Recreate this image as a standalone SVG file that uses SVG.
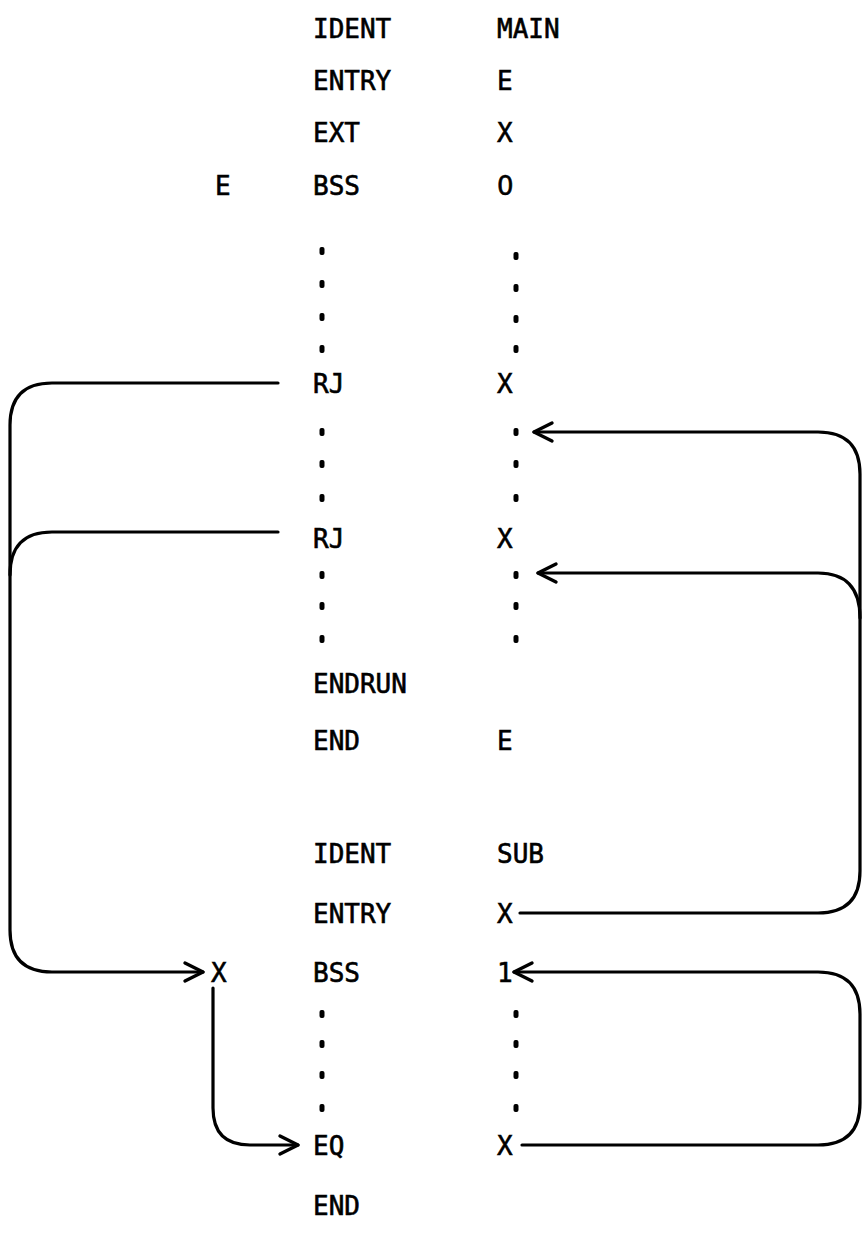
<svg xmlns="http://www.w3.org/2000/svg" width="867" height="1260" viewBox="0 0 867 1260">
<defs>
<style>
text{font-family:"DejaVu Sans Mono","Liberation Mono",monospace;font-size:26px;fill:#000;stroke:#000;stroke-width:0.6}
.z{font-family:"DejaVu Sans","Liberation Sans",sans-serif}
.c{fill:none;stroke:#000;stroke-width:3.2;stroke-linecap:round;stroke-linejoin:round}
.d{fill:#000}
</style>
<marker id="ah" markerWidth="24" markerHeight="24" refX="1" refY="12" orient="auto" markerUnits="userSpaceOnUse" overflow="visible">
<path d="M-17,3 L1,12 L-17,21" fill="none" stroke="#000" stroke-width="3.4" stroke-linecap="round" stroke-linejoin="round"/>
</marker>
</defs>
<rect width="867" height="1260" fill="#fff"/>
<g id="main">
<text x="313" y="38">IDENT</text><text x="497" y="38">MAIN</text>
<text x="313" y="90">ENTRY</text><text x="497" y="90">E</text>
<text x="313" y="142">EXT</text><text x="497" y="142">X</text>
<text x="215" y="195">E</text><text x="313" y="195">BSS</text><text class="z" x="497" y="195">0</text>
<text x="313" y="393">RJ</text><text x="497" y="393">X</text>
<text x="313" y="548">RJ</text><text x="497" y="548">X</text>
<text x="313" y="693">ENDRUN</text>
<text x="313" y="750">END</text><text x="497" y="750">E</text>
</g>
<g id="sub">
<text x="313" y="863">IDENT</text><text x="497" y="863">SUB</text>
<text x="313" y="923">ENTRY</text><text x="497" y="923">X</text>
<text x="211" y="982">X</text><text x="313" y="982">BSS</text><text x="497" y="982">1</text>
<text x="313" y="1155">EQ</text><text x="497" y="1155">X</text>
<text x="313" y="1215">END</text>
</g>
<g id="dots">
<rect class="d" x="319.5" y="247" width="5" height="8" rx="2"/><rect class="d" x="513.5" y="252" width="5" height="8" rx="2"/>
<rect class="d" x="319.5" y="280" width="5" height="8" rx="2"/><rect class="d" x="513.5" y="284" width="5" height="8" rx="2"/>
<rect class="d" x="319.5" y="313" width="5" height="8" rx="2"/><rect class="d" x="513.5" y="315" width="5" height="8" rx="2"/>
<rect class="d" x="319.5" y="345" width="5" height="8" rx="2"/><rect class="d" x="513.5" y="345" width="5" height="8" rx="2"/>
<rect class="d" x="319.5" y="428" width="5" height="8" rx="2"/><rect class="d" x="513.5" y="428" width="5" height="8" rx="2"/>
<rect class="d" x="319.5" y="460" width="5" height="8" rx="2"/><rect class="d" x="513.5" y="460" width="5" height="8" rx="2"/>
<rect class="d" x="319.5" y="494" width="5" height="8" rx="2"/><rect class="d" x="513.5" y="494" width="5" height="8" rx="2"/>
<rect class="d" x="319.5" y="571" width="5" height="8" rx="2"/><rect class="d" x="513.5" y="571" width="5" height="8" rx="2"/>
<rect class="d" x="319.5" y="602" width="5" height="8" rx="2"/><rect class="d" x="513.5" y="602" width="5" height="8" rx="2"/>
<rect class="d" x="319.5" y="635" width="5" height="8" rx="2"/><rect class="d" x="513.5" y="635" width="5" height="8" rx="2"/>
<rect class="d" x="319.5" y="1010" width="5" height="8" rx="2"/><rect class="d" x="513.5" y="1010" width="5" height="8" rx="2"/>
<rect class="d" x="319.5" y="1040" width="5" height="8" rx="2"/><rect class="d" x="513.5" y="1040" width="5" height="8" rx="2"/>
<rect class="d" x="319.5" y="1071" width="5" height="8" rx="2"/><rect class="d" x="513.5" y="1071" width="5" height="8" rx="2"/>
<rect class="d" x="319.5" y="1104" width="5" height="8" rx="2"/><rect class="d" x="513.5" y="1104" width="5" height="8" rx="2"/>
</g>
<g id="connectors">
<path class="c" d="M278,383 L52,383 Q10,383 10,425 L10,930 Q10,972 52,972 L203,972" marker-end="url(#ah)"/>
<path class="c" d="M278,532 L52,532 Q10,532 10,575"/>
<path class="c" d="M520,913 L818,913 Q860,913 860,871 L860,474 Q860,432 818,432 L534,432" marker-end="url(#ah)"/>
<path class="c" d="M860,618 Q860,573 818,573 L538,573" marker-end="url(#ah)"/>
<path class="c" d="M522,1145 L818,1145 Q860,1145 860,1103 L860,1014 Q860,972 818,972 L514,972" marker-end="url(#ah)"/>
<path class="c" d="M213,988 L213,1108 Q213,1145 250,1145 L298,1145" marker-end="url(#ah)"/>
</g>
</svg>
